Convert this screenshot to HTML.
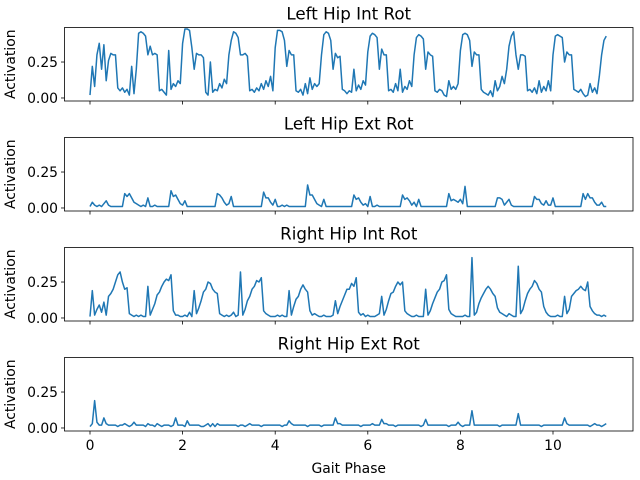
<!DOCTYPE html>
<html><head><meta charset="utf-8"><style>
body{margin:0;background:#fff;}
svg{display:block;font-family:"DejaVu Sans","Liberation Sans",sans-serif;}
</style></head><body>
<svg id="chart" width="640" height="480" viewBox="0 0 640 480" xmlns="http://www.w3.org/2000/svg"></svg>
<script>
const titles = ["Left Hip Int Rot","Left Hip Ext Rot","Right Hip Int Rot","Right Hip Ext Rot"];
const xTicks = [0,2,4,6,8,10];
const yTicks = [0,0.25];
const yTickLabels = ["0.00","0.25"];
const step = 0.05;
const leftIntRot = [
0.02,0.22,0.08,0.3,0.38,0.2,0.37,0.12,0.26,0.31,0.3,0.3,0.07,0.05,0.07,0.04,0.06,0.02,0.22,0.03,
0.2,0.45,0.46,0.45,0.43,0.3,0.36,0.3,0.31,0.3,0.05,0.06,0.04,0.02,0.33,0.06,0.1,0.08,0.12,0.1,
0.38,0.48,0.48,0.47,0.35,0.2,0.31,0.3,0.3,0.28,0.04,0.02,0.25,0.04,0.06,0.05,0.1,0.07,0.13,0.1,
0.3,0.4,0.46,0.45,0.42,0.3,0.3,0.31,0.29,0.05,0.06,0.04,0.07,0.05,0.1,0.06,0.12,0.08,0.15,0.05,
0.35,0.47,0.47,0.46,0.4,0.22,0.33,0.3,0.3,0.05,0.04,0.06,0.02,0.1,0.03,0.14,0.06,0.1,0.08,0.1,
0.3,0.44,0.46,0.45,0.4,0.2,0.31,0.28,0.29,0.06,0.05,0.03,0.05,0.04,0.2,0.05,0.09,0.06,0.12,0.09,
0.32,0.43,0.45,0.44,0.42,0.2,0.34,0.3,0.3,0.05,0.06,0.04,0.1,0.05,0.2,0.04,0.08,0.06,0.12,0.08,
0.3,0.42,0.44,0.43,0.41,0.2,0.32,0.3,0.29,0.05,0.04,0.06,0.05,0.02,0.01,0.12,0.06,0.08,0.06,0.1,
0.33,0.44,0.45,0.44,0.4,0.22,0.32,0.3,0.3,0.06,0.04,0.03,0.02,0.05,0.01,0.12,0.05,0.08,0.15,0.1,
0.2,0.36,0.43,0.46,0.3,0.2,0.3,0.3,0.29,0.05,0.06,0.04,0.07,0.03,0.12,0.04,0.08,0.05,0.12,0.05,
0.3,0.43,0.44,0.43,0.42,0.25,0.32,0.3,0.3,0.06,0.05,0.04,0.06,0.03,0.01,0.02,0.1,0.04,0.07,0.03,
0.15,0.3,0.4,0.43];
const leftExtRot = [
0.01,0.04,0.02,0.01,0.02,0.01,0.03,0.05,0.02,0.01,0.01,0.01,0.01,0.01,0.01,0.1,0.08,0.1,0.07,0.04,
0.03,0.02,0.01,0.02,0.01,0.07,0.01,0.01,0.02,0.01,0.01,0.01,0.01,0.01,0.01,0.12,0.08,0.09,0.06,0.03,
0.02,0.05,0.01,0.01,0.01,0.01,0.01,0.01,0.01,0.01,0.01,0.01,0.01,0.01,0.01,0.1,0.09,0.07,0.04,0.02,
0.03,0.08,0.01,0.01,0.01,0.01,0.01,0.01,0.01,0.01,0.01,0.01,0.01,0.01,0.01,0.11,0.07,0.07,0.04,0.02,
0.06,0.01,0.01,0.02,0.01,0.02,0.01,0.01,0.01,0.01,0.01,0.01,0.01,0.01,0.16,0.09,0.09,0.06,0.03,0.02,
0.01,0.06,0.01,0.01,0.01,0.01,0.01,0.01,0.01,0.01,0.01,0.01,0.01,0.01,0.09,0.06,0.07,0.04,0.02,0.03,
0.01,0.08,0.01,0.01,0.02,0.01,0.01,0.01,0.01,0.01,0.01,0.01,0.01,0.01,0.01,0.09,0.06,0.07,0.05,0.02,
0.04,0.01,0.06,0.01,0.01,0.01,0.01,0.01,0.01,0.01,0.01,0.01,0.01,0.01,0.01,0.1,0.05,0.06,0.05,0.04,
0.06,0.03,0.15,0.01,0.01,0.01,0.01,0.01,0.01,0.01,0.01,0.01,0.01,0.01,0.01,0.01,0.07,0.07,0.06,0.02,
0.04,0.06,0.02,0.01,0.01,0.01,0.01,0.01,0.01,0.01,0.01,0.01,0.08,0.06,0.06,0.03,0.02,0.05,0.02,0.02,
0.07,0.01,0.01,0.01,0.01,0.01,0.01,0.01,0.01,0.01,0.01,0.01,0.01,0.1,0.06,0.1,0.07,0.07,0.04,0.02,
0.02,0.04,0.01,0.01];
const rightIntRot = [
0.01,0.19,0.02,0.06,0.09,0.04,0.11,0.02,0.15,0.17,0.2,0.25,0.3,0.32,0.25,0.2,0.21,0.03,0.02,0.01,
0.02,0.01,0.02,0.01,0.01,0.22,0.02,0.06,0.1,0.16,0.18,0.22,0.25,0.27,0.26,0.3,0.05,0.02,0.02,0.01,
0.01,0.02,0.01,0.04,0.01,0.19,0.03,0.07,0.12,0.18,0.2,0.25,0.24,0.2,0.18,0.17,0.03,0.02,0.01,0.02,
0.01,0.02,0.04,0.01,0.02,0.32,0.02,0.06,0.12,0.15,0.2,0.22,0.26,0.25,0.28,0.05,0.03,0.02,0.01,0.01,
0.01,0.02,0.01,0.02,0.01,0.01,0.19,0.02,0.08,0.13,0.15,0.2,0.23,0.2,0.18,0.05,0.02,0.03,0.02,0.01,
0.01,0.02,0.01,0.01,0.01,0.02,0.12,0.03,0.08,0.12,0.16,0.2,0.2,0.24,0.22,0.28,0.04,0.02,0.03,0.01,
0.02,0.01,0.01,0.01,0.02,0.03,0.15,0.02,0.06,0.12,0.17,0.18,0.22,0.25,0.23,0.25,0.05,0.03,0.02,0.01,
0.01,0.02,0.01,0.01,0.01,0.2,0.02,0.05,0.1,0.14,0.18,0.2,0.25,0.26,0.3,0.06,0.03,0.02,0.01,0.01,
0.01,0.01,0.02,0.01,0.01,0.42,0.02,0.04,0.1,0.14,0.17,0.2,0.22,0.2,0.17,0.15,0.07,0.04,0.03,0.02,
0.01,0.03,0.02,0.01,0.01,0.36,0.03,0.06,0.12,0.17,0.2,0.22,0.26,0.24,0.2,0.18,0.08,0.04,0.02,0.01,
0.01,0.01,0.02,0.01,0.01,0.15,0.03,0.06,0.15,0.17,0.19,0.2,0.22,0.2,0.19,0.25,0.08,0.05,0.03,0.02,
0.02,0.01,0.02,0.01];
const rightExtRot = [
0.01,0.03,0.19,0.04,0.02,0.02,0.07,0.03,0.02,0.02,0.02,0.02,0.01,0.02,0.02,0.03,0.02,0.01,0.02,0.04,
0.02,0.02,0.02,0.02,0.01,0.03,0.02,0.02,0.01,0.03,0.02,0.01,0.02,0.02,0.02,0.01,0.02,0.07,0.02,0.02,
0.02,0.01,0.05,0.02,0.02,0.02,0.02,0.02,0.01,0.01,0.02,0.03,0.01,0.03,0.01,0.03,0.02,0.02,0.02,0.02,
0.02,0.02,0.02,0.02,0.01,0.02,0.02,0.01,0.02,0.03,0.02,0.02,0.02,0.02,0.01,0.02,0.02,0.02,0.02,0.02,
0.02,0.02,0.02,0.01,0.02,0.02,0.05,0.03,0.02,0.02,0.02,0.02,0.02,0.02,0.01,0.02,0.02,0.02,0.02,0.02,
0.01,0.02,0.02,0.02,0.02,0.02,0.07,0.03,0.03,0.02,0.02,0.02,0.02,0.02,0.02,0.02,0.02,0.01,0.02,0.02,
0.02,0.02,0.03,0.02,0.02,0.02,0.06,0.03,0.03,0.02,0.02,0.02,0.01,0.02,0.02,0.02,0.02,0.02,0.02,0.02,
0.02,0.02,0.02,0.01,0.02,0.06,0.02,0.02,0.02,0.02,0.02,0.02,0.02,0.02,0.02,0.01,0.02,0.02,0.02,0.04,
0.02,0.01,0.02,0.02,0.02,0.12,0.02,0.02,0.02,0.02,0.02,0.02,0.02,0.02,0.02,0.02,0.02,0.01,0.02,0.02,
0.02,0.02,0.02,0.02,0.02,0.1,0.02,0.02,0.02,0.02,0.02,0.02,0.02,0.02,0.02,0.01,0.02,0.02,0.02,0.02,
0.02,0.02,0.02,0.02,0.02,0.07,0.03,0.02,0.02,0.02,0.02,0.02,0.02,0.02,0.02,0.02,0.01,0.02,0.03,0.02,
0.02,0.01,0.02,0.03];
const seriesList = [leftIntRot,leftExtRot,rightIntRot,rightExtRot];

const NS = "http://www.w3.org/2000/svg";
const svg = document.getElementById('chart');
const L = 64.5, R = 633, H = 73.5, tops = [27.5,137.5,247.5,357.5];
const yMin = -0.021, yMax = 0.49;
function xs(v){ return 90 + v*46.3; }
function ys(v, top){ return top + H - (v - yMin)/(yMax - yMin)*H; }
function mk(tag, attrs, parent){
  const e = document.createElementNS(NS, tag);
  for (const k in attrs) e.setAttribute(k, attrs[k]);
  (parent||svg).appendChild(e); return e;
}
seriesList.forEach((data, p) => {
  const top = tops[p];
  const g = mk('g', {});
  
  
  const t = mk('text', {x:(L+R)/2, y:top-8, 'text-anchor':'middle', 'font-size':'16.7', fill:'#000'}, g);
  t.textContent = titles[p];
  
  
  const yl = mk('text', {x:0, y:0, 'text-anchor':'middle', 'font-size':'13.9', fill:'#000', transform:`translate(15,${top+H/2}) rotate(-90)`}, g);
  yl.textContent = 'Activation';
  
  
  yTicks.forEach((v,i) => {
    const y = ys(v, top);
    mk('line', {x1:L-3.5, x2:L, y1:y, y2:y, stroke:'#000', 'stroke-width':'0.8'}, g);
    const tl = mk('text', {x:L-6.5, y:y+5, 'text-anchor':'end', 'font-size':'13.9', fill:'#000'}, g);
    tl.textContent = yTickLabels[i];
    
    
  });
  xTicks.forEach(v => {
    const x = xs(v);
    mk('line', {x1:x, x2:x, y1:top+H, y2:top+H+3.5, stroke:'#000', 'stroke-width':'0.8'}, g);
    if (p === 3) {
      const xl = mk('text', {x:x, y:top+H+19, 'text-anchor':'middle', 'font-size':'13.9', fill:'#000'}, g);
      xl.textContent = String(v);
      
      
    }
  });
  const pts = data.map((v,i) => xs(i*step).toFixed(2) + ',' + ys(v, top).toFixed(2)).join(' ');
  const line = mk('polyline', {points:pts, fill:'none', stroke:'#1f77b4', 'stroke-width':'1.5', 'stroke-linejoin':'round'}, g);
  
  
  const fr = mk('rect', {x:L, y:top, width:R-L, height:H, fill:'none', stroke:'#000', 'stroke-width':'0.8'}, g);
  
  
});
const xt = mk('text', {x:(L+R)/2, y:473, 'text-anchor':'middle', 'font-size':'13.9', fill:'#000'});
xt.textContent = 'Gait Phase';


</script>
</body></html>
